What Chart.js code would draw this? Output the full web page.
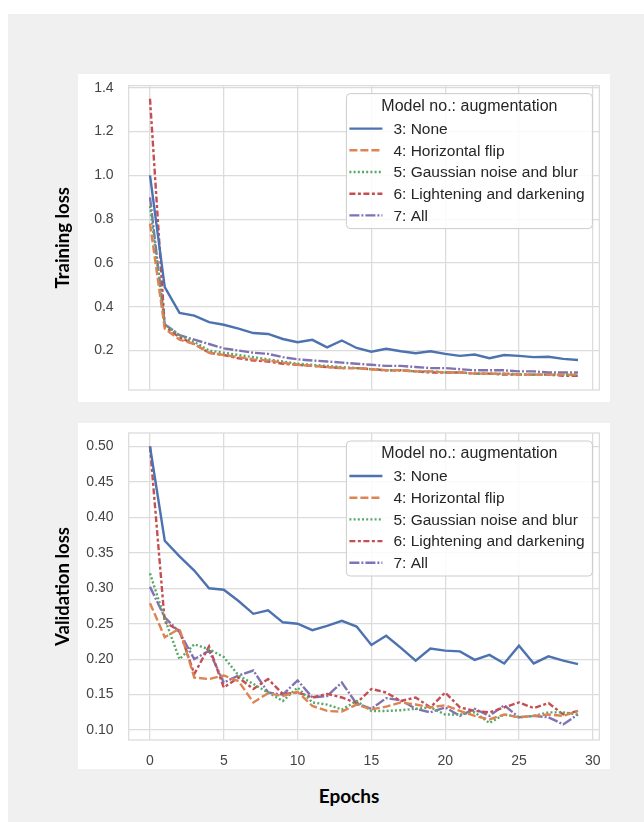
<!DOCTYPE html>
<html>
<head>
<meta charset="utf-8">
<script src="https://cdn.jsdelivr.net/npm/chart.js@4.4.1/dist/chart.umd.min.js"></script>
<style>
html, body { margin: 0; padding: 0; background: #fff; }
body { width: 644px; height: 822px; position: relative; overflow: hidden; }
#bg { position: absolute; left: 8px; top: 14px; width: 636px; height: 808px; background: #f0f0f0; }
.panel { position: absolute; left: 78px; width: 532px; background: #fff; }
#p1 { top: 74px; height: 328px; }
#p2 { top: 423px; height: 346px; }
.wrap { position: absolute; left: 40px; width: 570px; }
#w1 { top: 74px; height: 328px; }
#w2 { top: 423px; height: 346px; }
#xlabel { position: absolute; left: 289px; width: 120px; top: 784px; text-align: center;
  font-family: Lato, "Open Sans", sans-serif; font-weight: bold; font-size: 19px; color: #000; line-height: 24px; }
</style>
</head>
<body>
<div id="bg"></div>
<div class="panel" id="p1"></div>
<div class="panel" id="p2"></div>
<div class="wrap" id="w1"><canvas id="trainChart" width="570" height="328"></canvas></div>
<div class="wrap" id="w2"><canvas id="valChart" width="570" height="346"></canvas></div>
<div id="xlabel">Epochs</div>
<script>
// data
const epochs = [0,1,2,3,4,5,6,7,8,9,10,11,12,13,14,15,16,17,18,19,20,21,22,23,24,25,26,27,28,29]
const labels = ['3: None', '4: Horizontal flip', '5: Gaussian noise and blur', '6: Lightening and darkening', '7: All']
const legendTitle = 'Model no.: augmentation'

const trainNone  = [1.00,0.49,0.372,0.36,0.33,0.318,0.30,0.28,0.276,0.253,0.238,0.249,0.215,0.246,0.212,0.195,0.208,0.197,0.188,0.197,0.185,0.176,0.182,0.165,0.18,0.176,0.17,0.172,0.162,0.157]
const trainFlip  = [0.78,0.30,0.25,0.23,0.19,0.18,0.17,0.16,0.155,0.145,0.135,0.13,0.125,0.12,0.12,0.115,0.11,0.11,0.105,0.105,0.10,0.10,0.095,0.095,0.095,0.09,0.09,0.09,0.09,0.09]
const trainNoise = [0.86,0.32,0.27,0.24,0.20,0.19,0.18,0.17,0.16,0.15,0.14,0.135,0.13,0.125,0.12,0.115,0.11,0.11,0.105,0.105,0.10,0.10,0.095,0.095,0.095,0.092,0.09,0.09,0.09,0.088]
const trainLight = [1.35,0.31,0.26,0.23,0.19,0.18,0.165,0.155,0.15,0.14,0.135,0.13,0.125,0.12,0.12,0.115,0.11,0.11,0.105,0.10,0.10,0.10,0.095,0.095,0.09,0.09,0.09,0.09,0.085,0.085]
const trainAll   = [0.90,0.32,0.27,0.25,0.23,0.21,0.20,0.19,0.185,0.17,0.16,0.155,0.15,0.145,0.14,0.135,0.13,0.13,0.125,0.12,0.12,0.115,0.11,0.11,0.11,0.105,0.105,0.10,0.10,0.10]

const valNone  = [0.50,0.367,0.345,0.325,0.30,0.298,0.282,0.264,0.269,0.252,0.25,0.241,0.247,0.254,0.246,0.22,0.233,0.216,0.198,0.215,0.212,0.211,0.199,0.206,0.194,0.219,0.194,0.204,0.198,0.193]
const valFlip  = [0.279,0.231,0.243,0.174,0.172,0.177,0.169,0.139,0.152,0.148,0.154,0.134,0.127,0.126,0.136,0.129,0.133,0.139,0.136,0.132,0.135,0.127,0.12,0.115,0.122,0.118,0.12,0.122,0.12,0.127]
const valNoise = [0.321,0.257,0.20,0.221,0.214,0.203,0.177,0.165,0.153,0.141,0.16,0.139,0.136,0.129,0.141,0.127,0.127,0.128,0.13,0.132,0.122,0.122,0.125,0.11,0.122,0.118,0.12,0.125,0.125,0.122]
const valLight = [0.50,0.252,0.24,0.179,0.218,0.16,0.174,0.158,0.172,0.151,0.153,0.146,0.151,0.146,0.138,0.158,0.153,0.141,0.146,0.132,0.153,0.132,0.127,0.125,0.132,0.139,0.131,0.138,0.122,0.127]
const valAll   = [0.302,0.259,0.238,0.20,0.212,0.167,0.177,0.184,0.153,0.15,0.17,0.146,0.148,0.167,0.137,0.13,0.145,0.142,0.13,0.125,0.132,0.12,0.13,0.12,0.135,0.118,0.12,0.118,0.108,0.122]

const xTicks = [0,5,10,15,20,25,30]
const trainTicks = [0.2,0.4,0.6,0.8,1.0,1.2,1.4]
const valTicks = [0.10,0.15,0.20,0.25,0.30,0.35,0.40,0.45,0.50]

const colors = ['#4c72b0', '#dd8452', '#55a868', '#c44e52', '#8172b3']
const dashes = [[], [8, 3], [2, 2.2], [6, 2.5, 3, 2.5], [10, 2, 2, 2]]
const gridColor = '#dcdcdc'
const tickFont = { family: '"Liberation Sans", Arial, sans-serif', size: 14 }

function makeDatasets (series) {
    return series.map((s, k) => ({
        label: labels[k],
        data: s.map((v, i) => ({ x: epochs[i], y: v })),
        borderColor: colors[k],
        borderDash: dashes[k],
        borderWidth: 2.4,
        pointRadius: 0,
        tension: 0,
        fill: false,
    }))
}

// axes frame on all four sides, like the seaborn whitegrid style
const framePlugin = {
    id: 'frame',
    beforeDatasetsDraw (chart) {
        const { ctx, chartArea: a } = chart
        ctx.save()
        ctx.strokeStyle = gridColor
        ctx.lineWidth = 1.3
        ctx.strokeRect(a.left, a.top, a.right - a.left, a.bottom - a.top)
        ctx.restore()
    }
}

// boxed legend with a title, top right inside the axes
const boxLegend = {
    id: 'boxLegend',
    afterDraw (chart) {
        const { ctx, chartArea: a } = chart
        const w = 246, h = 135
        const x = a.right - 7 - w, y = a.top + 8
        ctx.save()
        ctx.beginPath()
        ctx.roundRect(x, y, w, h, 4)
        ctx.fillStyle = 'rgba(255,255,255,0.85)'
        ctx.fill()
        ctx.strokeStyle = '#cccccc'
        ctx.lineWidth = 1
        ctx.stroke()
        ctx.fillStyle = '#262626'
        ctx.textBaseline = 'middle'
        ctx.textAlign = 'center'
        ctx.font = '16px "Liberation Sans", Arial, sans-serif'
        ctx.fillText(legendTitle, x + w / 2, y + 13)
        ctx.textAlign = 'left'
        ctx.font = '15.5px "Liberation Sans", Arial, sans-serif'
        chart.data.datasets.forEach((ds, k) => {
            const yy = y + 35 + k * 21.7
            ctx.beginPath()
            ctx.setLineDash(ds.borderDash)
            ctx.strokeStyle = ds.borderColor
            ctx.lineWidth = ds.borderWidth
            ctx.moveTo(x + 3, yy)
            ctx.lineTo(x + 36, yy)
            ctx.stroke()
            ctx.setLineDash([])
            ctx.fillText(ds.label, x + 47, yy + 1)
        })
        ctx.restore()
    }
}

function noPad (s) {
    s.paddingTop = 0
    s.paddingBottom = 0
    s.paddingLeft = 0
    s.paddingRight = 0
}

function makeChart (id, series, yMin, yMax, yTicks, yTitle, decimals, showX, padTop, xHeight) {
    return new Chart(document.getElementById(id), {
        type: 'line',
        data: { datasets: makeDatasets(series) },
        options: {
            responsive: false,
            animation: false,
            events: [],
            layout: { padding: { top: padTop, right: 10.6, left: 0, bottom: 0 } },
            plugins: { legend: { display: false }, tooltip: { enabled: false } },
            scales: {
                x: {
                    type: 'linear',
                    min: -1.45,
                    max: 30.45,
                    afterBuildTicks: s => { s.ticks = xTicks.map(v => ({ value: v })) },
                    afterFit: s => { s.height = xHeight; noPad(s) },
                    grid: { color: gridColor, lineWidth: 1.3, drawTicks: false },
                    border: { display: false },
                    ticks: { display: showX, padding: 13, color: '#444', font: tickFont, maxRotation: 0 },
                },
                y: {
                    type: 'linear',
                    min: yMin,
                    max: yMax,
                    afterBuildTicks: s => { s.ticks = yTicks.map(v => ({ value: v })) },
                    afterFit: s => { s.width = 88.6; noPad(s) },
                    grid: { color: gridColor, lineWidth: 1.3, drawTicks: false },
                    border: { display: false },
                    ticks: { padding: 15, color: '#444', font: tickFont, callback: v => v.toFixed(decimals) },
                    title: {
                        display: true,
                        text: yTitle,
                        color: '#000',
                        font: { family: 'Lato, "Open Sans", sans-serif', size: 18.5, weight: 'bold' },
                        padding: { top: 12, bottom: 0 },
                    },
                },
            },
        },
        plugins: [framePlugin, boxLegend],
    })
}

makeChart('trainChart', [trainNone, trainFlip, trainNoise, trainLight, trainAll], 0.02, 1.41, trainTicks, 'Training loss', 1, false, 11.6, 12)
makeChart('valChart', [valNone, valFlip, valNoise, valLight, valAll], 0.086, 0.519, valTicks, 'Validation loss', 2, true, 10, 29)
</script>
</body>
</html>
